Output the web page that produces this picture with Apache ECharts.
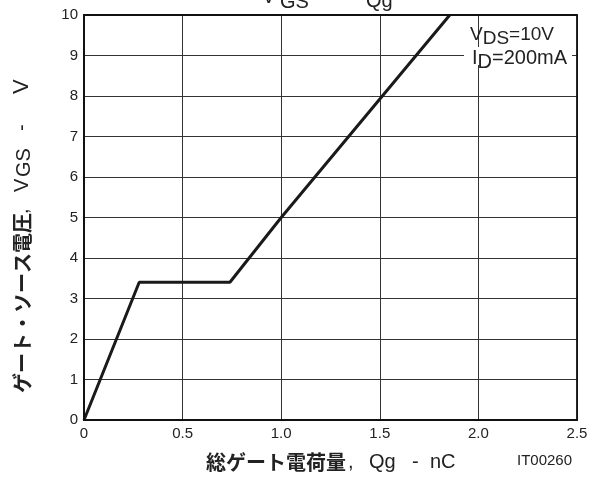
<!DOCTYPE html>
<html><head><meta charset="utf-8">
<script src="https://cdn.jsdelivr.net/npm/echarts@6/dist/echarts.min.js"></script>
<style>html,body{margin:0;padding:0;background:#fff}#c{width:591px;height:477px}</style>
</head><body><div id="c"></div>
<script>
const qg = [0, 0.28, 0.74, 1.0, 1.855];
const vgs = [0, 3.4, 3.4, 5.0, 10];
const xTicks = ['0','0.5','1.0','1.5','2.0','2.5'];
const yTicks = ['0','1','2','3','4','5','6','7','8','9','10'];

const LAT = '"Liberation Sans", Arial, sans-serif';
const JP = '"Noto Sans CJK JP", sans-serif';
const C = '#222';
const R = Math.PI/2;
function t(x,y,text,o){return Object.assign({type:'text',x:x,y:y,z:10,silent:true,
  style:{text:text,fontFamily:LAT,fontSize:20,fill:C,verticalAlign:'middle'}},o||{});}
const chart = echarts.init(document.getElementById('c'), null, {renderer:'canvas'});
chart.setOption({
  animation:false,
  backgroundColor:'#fff',
  grid:{left:84,right:14,top:15,bottom:57},
  xAxis:{
    type:'value',min:0,max:2.5,interval:0.5,
    axisLine:{show:true,lineStyle:{color:'#111',width:1.8}},
    axisTick:{show:false},
    axisLabel:{color:C,fontFamily:LAT,fontSize:15,margin:6,
      formatter:(v)=>xTicks[Math.round(v/0.5)]},
    splitLine:{show:true,lineStyle:{color:'#333',width:1}}
  },
  yAxis:{
    type:'value',min:0,max:10,interval:1,
    axisLine:{show:true,lineStyle:{color:'#111',width:1.8}},
    axisTick:{show:false},
    axisLabel:{color:C,fontFamily:LAT,fontSize:15,margin:6,
      formatter:(v)=>yTicks[Math.round(v)]},
    splitLine:{show:true,lineStyle:{color:'#333',width:1}}
  },
  series:[{
    type:'line',data:qg.map((x,i)=>[x,vgs[i]]),
    showSymbol:false,lineStyle:{color:'#1a1a1a',width:3},
    z:5
  }],
  graphic:[
    {type:'rect',shape:{x:84,y:15,width:493,height:405},style:{fill:'none',stroke:'#111',lineWidth:1.8},z:6,silent:true},
    {type:'text',x:470,y:22,z:10,style:{
      text:'{n|V}{s|DS}{n|=10V}',
      rich:{n:{fontFamily:LAT,fontSize:19,fill:C},
            s:{fontFamily:LAT,fontSize:19,fill:C,padding:[7,0,0,0]}}}},
    {type:'rect',shape:{x:464,y:47,width:108,height:18},style:{fill:'#fff'},z:9},
    {type:'text',x:472,y:45,z:10,style:{
      text:'{n|I}{s|D}{n|=200mA}',
      rich:{n:{fontFamily:LAT,fontSize:20,fill:C},
            s:{fontFamily:LAT,fontSize:20,fill:C,padding:[7,0,0,0]}}}},
    // title (cut off at the top)
    t(262,7,'V',{style:{text:'V',fontFamily:LAT,fontSize:20,fill:C,verticalAlign:'bottom'}}),
    t(280,12,'GS',{style:{text:'GS',fontFamily:LAT,fontSize:20,fill:C,verticalAlign:'bottom'}}),
    t(327,4,'－',{style:{text:'－',fontFamily:LAT,fontSize:20,fill:C,verticalAlign:'bottom'}}),
    t(366,11,'Qg',{style:{text:'Qg',fontFamily:LAT,fontSize:20,fill:C,verticalAlign:'bottom'}}),
    // x axis name
    t(206,462,'総ゲート電荷量',{style:{text:'総ゲート電荷量',fontFamily:JP,fontWeight:'bold',fontSize:20,fill:C,verticalAlign:'middle'}}),
    t(348,462,','),
    t(369,462,'Qg'),
    t(412,462,'-'),
    t(430,462,'nC'),
    // y axis name (rotated)
    t(22,393,'ゲート・ソース電圧',{rotation:R,style:{text:'ゲート・ソース電圧',fontFamily:JP,fontWeight:'bold',fontSize:20,fill:C,verticalAlign:'middle'}}),
    t(22,214,',',{rotation:R}),
    t(22,192,'V',{rotation:R}),
    t(24,177,'GS',{rotation:R}),
    t(22,131,'-',{rotation:R}),
    t(22,94,'V',{rotation:R,style:{text:'V',fontFamily:LAT,fontSize:22,fill:C,verticalAlign:'middle'}}),
    {type:'text',x:517,y:453,z:10,style:{text:'IT00260',fontFamily:LAT,fontSize:15,fill:C}}
  ]
});
</script></body></html>
